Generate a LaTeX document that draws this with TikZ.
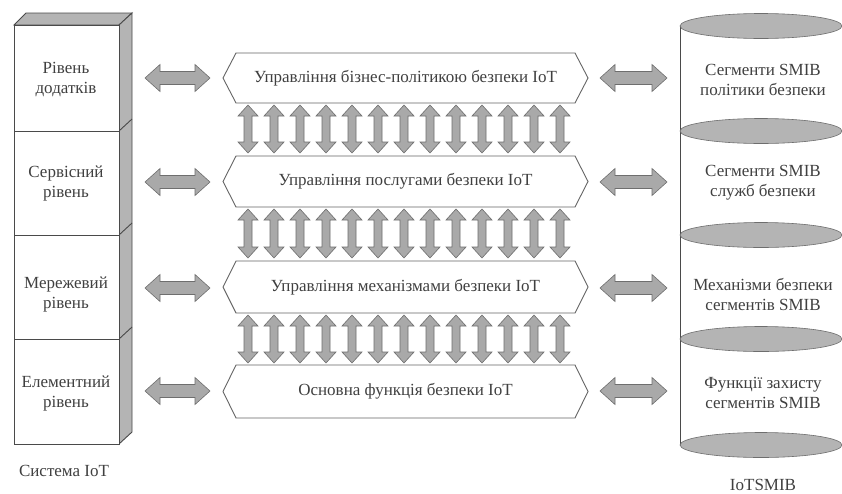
\documentclass[tikz,border=0pt]{standalone}
\usepackage{fontspec}
\setmainfont{Liberation Serif}
\definecolor{edgegray}{HTML}{4A4A4A}
\definecolor{facegray}{HTML}{B4B4B4}
\definecolor{arrowgray}{HTML}{A9A9A9}
\definecolor{arrowedge}{HTML}{6E6E6E}
\definecolor{textgray}{HTML}{404040}
% horizontal block double arrow: x-start, x-end, y
\newcommand\hblockarrow[3]{%
  \draw[blockarrow] (#1,#3) -- (#1+15,#3-13.5) -- (#1+15,#3-6.5) -- (#2-15,#3-6.5)
    -- (#2-15,#3-13.5) -- (#2,#3) -- (#2-15,#3+13.5) -- (#2-15,#3+6.5)
    -- (#1+15,#3+6.5) -- (#1+15,#3+13.5) -- cycle;}
% vertical block double arrow: x, y-start, y-end
\newcommand\vblockarrow[3]{%
  \draw[blockarrow] (#1,#2) -- (#1+10,#2+11) -- (#1+4,#2+11) -- (#1+4,#3-11)
    -- (#1+10,#3-11) -- (#1,#3) -- (#1-10,#3-11) -- (#1-4,#3-11)
    -- (#1-4,#2+11) -- (#1-10,#2+11) -- cycle;}
% pointed band with a centred caption: name, y-top, y-bottom, text
\newcommand\hexband[4]{%
  \node[lbl] (#1) at (405.5,{(#2+#3)/2}) {#4};
  \draw[hexline] (223,{(#2+#3)/2}) -- (236,#2) -- (575,#2) -- (588,{(#2+#3)/2})
    -- (575,#3) -- (236,#3) -- cycle;}
\begin{document}
\begin{tikzpicture}[x=1pt,y=-1pt,
  stackline/.style={draw=edgegray, line width=0.9pt, line join=miter},
  hexline/.style={draw=edgegray!85, line width=0.9pt},
  blockarrow/.style={draw=arrowedge, fill=arrowgray, line width=0.6pt},
  diskfill/.style={draw=edgegray!80, fill=facegray, line width=0.6pt},
  lbl/.style={font=\fontsize{17}{20}\selectfont, text=textgray, align=center}]
\useasboundingbox[fill=white] (0,0) rectangle (842,493);

% ---- layered block (left) ----
\draw[stackline, fill=facegray] (14,25) -- (26,13) -- (132,13) -- (119,25) -- cycle;
\draw[stackline, fill=facegray] (119,25) -- (132,13) -- (132,432) -- (119,444) -- cycle;
\foreach \yy in {131,235,339} {
  \draw[stackline] (119,\yy) -- (132,\yy-12);
}
\draw[stackline, fill=white] (14,25) rectangle (119,444);
\foreach \yy in {131,235,339} {
  \draw[stackline] (14,\yy) -- (119,\yy);
}
\node[lbl] (l1) at (66,80)  {Рівень\\додатків};
\node[lbl] (l2) at (66,183) {Сервісний\\рівень};
\node[lbl] (l3) at (66,294) {Мережевий\\рівень};
\node[lbl] (l4) at (66,393) {Елементний\\рівень};
\node[lbl] (lsys) at (64,471) {Система IoT};

% ---- management bands (centre) ----
\hexband{m1}{53}{103}{Управління бізнес-політикою безпеки IoT}
\hexband{m2}{156}{207}{Управління послугами безпеки IoT}
\hexband{m3}{261}{313}{Управління механізмами безпеки IoT}
\hexband{m4}{365}{418}{Основна функція безпеки IoT}

% vertical links between bands
\foreach \ya/\yb in {105/153, 209/258, 315/363} {
  \foreach \i in {0,...,12} {
    \vblockarrow{248+26*\i}{\ya}{\yb}
  }
}

% horizontal links
\foreach \yy in {78,182,288,391} {
  \hblockarrow{145}{210}{\yy}
  \hblockarrow{600}{667}{\yy}
}

% ---- segmented cylinder (right) ----
\draw[stackline, fill=white] (680,26) rectangle (844,445);
\foreach \yy in {26,131,235,339,445} {
  \draw[diskfill] (761,\yy) ellipse [x radius=81, y radius=12.5];
}
\node[lbl] (r1) at (763,80)  {Сегменти SMIB\\політики безпеки};
\node[lbl] (r2) at (763,183) {Сегменти SMIB\\служб безпеки};
\node[lbl] (r3) at (763,294) {Механізми безпеки\\сегментів SMIB};
\node[lbl] (r4) at (763,393) {Функції захисту\\сегментів SMIB};
\node[lbl] (rsys) at (763,485) {IoTSMIB};
\end{tikzpicture}
\end{document}
